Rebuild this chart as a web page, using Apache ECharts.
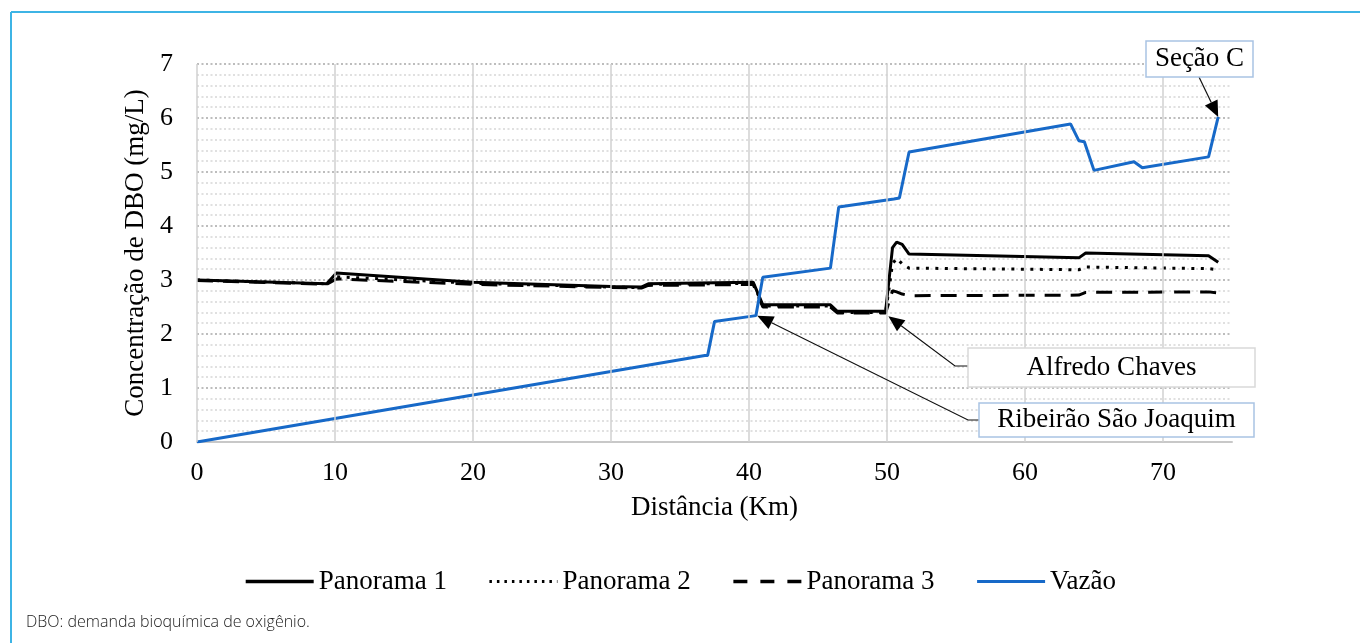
<!DOCTYPE html>
<html>
<head>
<meta charset="utf-8">
<script src="https://cdn.jsdelivr.net/npm/echarts@6/dist/echarts.min.js"></script>
<style>
  html, body { margin: 0; padding: 0; background: #fff; }
  #chart { width: 1360px; height: 643px; }
</style>
</head>
<body>
<div id="chart"></div>
<script>
// distance (km) shared by the three DBO scenarios
var distPanorama = [0, 9.4, 10.1, 20, 30, 32.2, 32.7, 37.6, 40.3, 41.0, 45.9, 46.4, 49.9, 50.4, 50.7, 51.1, 51.6, 63.9, 64.4, 73.3, 74.0];
var panorama1 = [3.00, 2.93, 3.13, 2.96, 2.88, 2.87, 2.93, 2.95, 2.96, 2.54, 2.54, 2.42, 2.42, 3.60, 3.70, 3.66, 3.48, 3.41, 3.50, 3.45, 3.33];
var panorama2 = [3.00, 2.93, 3.06, 2.94, 2.87, 2.86, 2.92, 2.93, 2.94, 2.52, 2.52, 2.40, 2.40, 3.30, 3.40, 3.30, 3.22, 3.19, 3.24, 3.21, 3.19];
var panorama3 = [2.99, 2.92, 3.02, 2.92, 2.86, 2.85, 2.90, 2.91, 2.92, 2.50, 2.50, 2.39, 2.39, 2.80, 2.78, 2.74, 2.71, 2.72, 2.77, 2.78, 2.76];

// flow (Vazão)
var distVazao = [0, 36.8, 37.0, 37.5, 40.5, 41.0, 45.9, 46.5, 50.5, 50.9, 51.6, 63.3, 63.9, 64.3, 65.0, 67.9, 68.5, 73.3, 74.0];
var vazao = [0, 1.60, 1.60, 2.23, 2.34, 3.05, 3.22, 4.35, 4.50, 4.52, 5.37, 5.89, 5.58, 5.56, 5.03, 5.19, 5.08, 5.28, 6.02];

var seriesNames = ['Panorama 1', 'Panorama 2', 'Panorama 3', 'Vazão'];
var xGridLines = [0, 10, 20, 30, 40, 50, 60, 70];

// callouts: label and the data point the arrow points at
var calloutNames = ['Seção C', 'Alfredo Chaves', 'Ribeirão São Joaquim'];
var calloutTargets = [[74.0, 6.02], [50.1, 2.33], [40.6, 2.34]];

var serif = "'Liberation Serif', 'Times New Roman', serif";
var blue = '#1769c8';

function pairs(xs, ys) {
  return xs.map(function (x, i) { return [x, ys[i]]; });
}

var myChart = echarts.init(document.getElementById('chart'));

var option = {
  animation: false,
  grid: { left: 197, right: 128, top: 64, height: 378 },
  legend: {
    data: [
      { name: seriesNames[0], lineStyle: { color: '#000', width: 3.5, type: 'solid' } },
      { name: seriesNames[1], lineStyle: { color: '#000', width: 3, type: [2.5, 5] } },
      { name: seriesNames[2], lineStyle: { color: '#000', width: 3.5, type: [14, 13] } },
      { name: seriesNames[3], lineStyle: { color: blue, width: 3, type: 'solid' } }
    ],
    left: 'center',
    top: 563,
    itemWidth: 68,
    itemHeight: 14,
    itemGap: 41,
    itemStyle: { opacity: 0 },
    textStyle: { fontFamily: serif, fontSize: 27, color: '#000' }
  },
  xAxis: {
    type: 'value',
    min: 0,
    max: 75,
    interval: 10,
    name: 'Distância (Km)',
    nameLocation: 'middle',
    nameGap: 52,
    nameTextStyle: { fontFamily: serif, fontSize: 27, color: '#000' },
    axisLine: { lineStyle: { color: '#c8c8c8', width: 2 } },
    axisTick: { show: false },
    axisLabel: {
      showMaxLabel: false,
      margin: 18,
      fontFamily: serif, fontSize: 26, color: '#000'
    },
    splitLine: { show: false }
  },
  yAxis: {
    type: 'value',
    min: 0,
    max: 7,
    interval: 1,
    name: 'Concentração de DBO (mg/L)',
    nameLocation: 'middle',
    nameRotate: 90,
    nameGap: 44,
    nameTextStyle: { fontFamily: serif, fontSize: 27, color: '#000' },
    axisLine: { show: false },
    axisTick: { show: false },
    axisLabel: { margin: 24, fontFamily: serif, fontSize: 26, color: '#000' },
    splitLine: { lineStyle: { color: '#bdbdbd', width: 2, type: [2, 2.5] } },
    minorTick: { show: false, splitNumber: 5 },
    minorSplitLine: { show: true, lineStyle: { color: '#e0e0e0', width: 2, type: [2, 2.5] } }
  },
  series: [
    {
      name: 'grade',
      type: 'line',
      data: [],
      z: 1,
      markLine: {
        silent: true,
        symbol: ['none', 'none'],
        label: { show: false },
        lineStyle: { color: '#d0d0d0', type: 'solid', width: 1.5 },
        data: xGridLines.map(function (v) { return { xAxis: v }; })
      }
    },
    {
      name: 'Panorama 1', type: 'line', showSymbol: false, symbol: 'none', z: 3,
      lineStyle: { color: '#000', width: 3 }, itemStyle: { color: '#000' },
      data: pairs(distPanorama, panorama1)
    },
    {
      name: 'Panorama 2', type: 'line', showSymbol: false, symbol: 'none', z: 3,
      lineStyle: { color: '#000', width: 3, type: [3, 6.5] }, itemStyle: { color: '#000' },
      data: pairs(distPanorama, panorama2)
    },
    {
      name: 'Panorama 3', type: 'line', showSymbol: false, symbol: 'none', z: 3,
      lineStyle: { color: '#000', width: 3, type: [16, 10] }, itemStyle: { color: '#000' },
      data: pairs(distPanorama, panorama3)
    },
    {
      name: 'Vazão', type: 'line', showSymbol: false, symbol: 'none', z: 4,
      lineStyle: { color: blue, width: 3 }, itemStyle: { color: blue },
      data: pairs(distVazao, vazao)
    }
  ]
};

myChart.setOption(option);

// arrow: polyline through pts, filled head at the last point
function arrowShapes(pts) {
  var n = pts.length, tip = pts[n - 1], prev = pts[n - 2];
  var dx = tip[0] - prev[0], dy = tip[1] - prev[1];
  var len = Math.sqrt(dx * dx + dy * dy);
  var ux = dx / len, uy = dy / len, hl = 16, hw = 7;
  var base = [tip[0] - ux * hl, tip[1] - uy * hl];
  return [
    { type: 'polyline', silent: true, z: 20,
      shape: { points: pts.slice(0, n - 1).concat([base]) },
      style: { stroke: '#111', lineWidth: 1.2, fill: null } },
    { type: 'polygon', silent: true, z: 20,
      shape: { points: [tip, [base[0] - uy * hw, base[1] + ux * hw], [base[0] + uy * hw, base[1] - ux * hw]] },
      style: { fill: '#000' } }
  ];
}

function box(x, y, w, h, text, border) {
  return [
    { type: 'rect', silent: true, z: 21, shape: { x: x, y: y, width: w, height: h },
      style: { fill: '#fff', stroke: border, lineWidth: 1.5 } },
    { type: 'text', silent: true, z: 22, x: x + w / 2, y: y + h / 2,
      style: { text: text, font: "27px " + serif, fill: '#000', align: 'center', verticalAlign: 'middle' } }
  ];
}

var tips = calloutTargets.map(function (p) {
  return myChart.convertToPixel({ xAxisIndex: 0, yAxisIndex: 0 }, p);
});

var elements = [];
elements = elements.concat(arrowShapes([[1199, 77], tips[0]]));
elements = elements.concat(arrowShapes([[968, 366], [955, 366], tips[1]]));
elements = elements.concat(arrowShapes([[979, 420], [968, 420], tips[2]]));
elements = elements.concat(box(1146, 41, 107, 36, calloutNames[0], '#a9c3e3'));
elements = elements.concat(box(968, 348, 287, 39, calloutNames[1], '#d9d9d9'));
elements = elements.concat(box(979, 403, 275, 34, calloutNames[2], '#a9c3e3'));

// figure frame and note
elements.push({ type: 'line', silent: true, shape: { x1: 11, y1: 12, x2: 1360, y2: 12 }, style: { stroke: '#3db4e5', lineWidth: 2 } });
elements.push({ type: 'line', silent: true, shape: { x1: 11, y1: 12, x2: 11, y2: 643 }, style: { stroke: '#3db4e5', lineWidth: 2 } });
elements.push({ type: 'text', silent: true, x: 26, y: 622,
  style: { text: 'DBO: demanda bioquímica de oxigênio.', font: "300 16px 'Open Sans', 'Noto Sans', sans-serif", fill: '#222', verticalAlign: 'middle' } });

myChart.setOption({ graphic: elements });

window.addEventListener('resize', function () {
  myChart.resize();
});
</script>
</body>
</html>
